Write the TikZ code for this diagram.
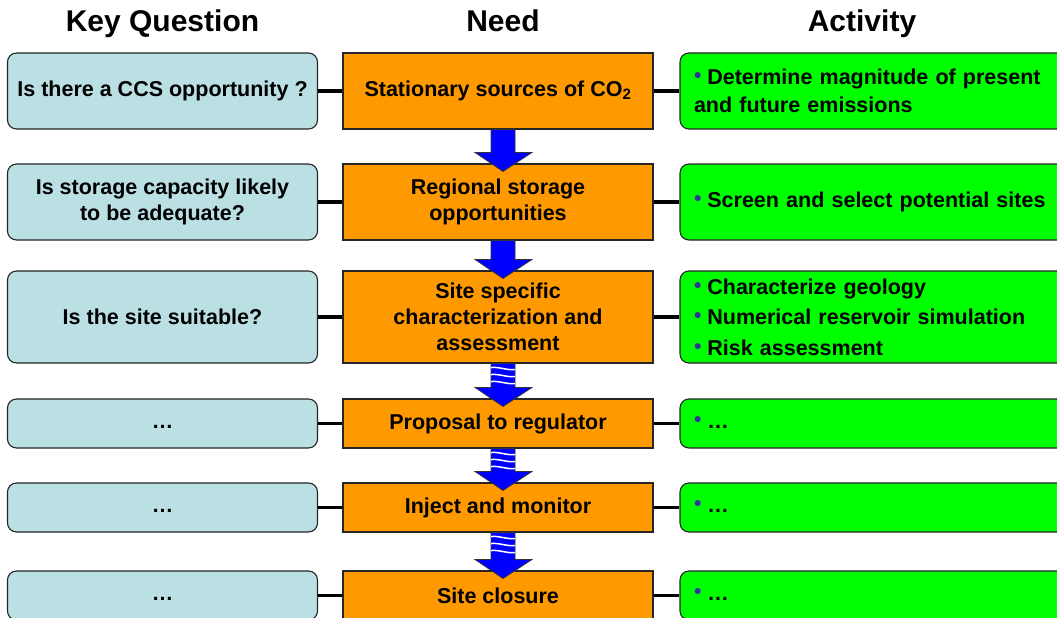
\documentclass[tikz,border=0pt]{standalone}
\usepackage{fontspec}
\setmainfont{Liberation Sans}
\usetikzlibrary{calc}
\definecolor{qblue}{RGB}{186,224,228}
\definecolor{needor}{RGB}{255,153,0}
\definecolor{actgr}{RGB}{0,255,0}
\definecolor{bulc}{RGB}{51,51,153}
\definecolor{arrblue}{RGB}{0,0,255}
\newcommand\bul{{\color{bulc}\raisebox{2pt}{\fontsize{21}{21}\selectfont •}}\hspace{6pt}}
\newcommand\blockarrow[2]{%
  \draw[draw=black!80,line width=0.8pt,fill=arrblue] let \p1=(#1.south), \p2=(#2.north) in
  (\x1-7pt,\y1) -- (\x1+17pt,\y1) -- (\x1+17pt,\y2+11pt) -- (\x1+34pt,\y2+11pt)
  -- (\x1+5pt,\y2-8pt) -- (\x1-23pt,\y2+11pt) -- (\x1-7pt,\y2+11pt) -- cycle;}
\newcommand\stripes[1]{%
  \foreach \d in {5,12,19}{
  \draw[white,line width=1.5pt] let \p1=(#1.south) in
  (\x1-7pt,\y1-\d pt+1pt) .. controls (\x1+1pt,\y1-\d pt+2pt) and (\x1+9pt,\y1-\d pt-2pt) .. (\x1+17pt,\y1-\d pt-1pt);}}
\newcommand\dotsline{\raisebox{-5pt}{\vphantom{Ag}…}}
\newcommand\buldots{\raisebox{-5pt}{\vphantom{Ag}\bul …}}
\begin{document}
\begin{tikzpicture}[x=1pt,y=-1pt,
  every node/.style={font=\fontsize{21.5}{26}\selectfont\bfseries},
  header/.style={font=\fontsize{30}{30}\selectfont\bfseries,anchor=base},
  qbox/.style={draw=black!85,line width=1.1pt,fill=qblue,rounded corners=9pt,
    minimum width=310pt,align=center,inner sep=0pt},
  needbox/.style={draw=black!85,line width=1.1pt,fill=needor,
    minimum width=310pt,align=center,inner sep=0pt},
  actbox/.style={draw=black!85,line width=1.1pt,fill=actgr,rounded corners=9pt,
    minimum width=400pt,text width=372pt,align=left,inner xsep=14pt,inner ysep=0pt},
  link/.style={line width=3.5pt,black}
]
\useasboundingbox (0,0) rectangle (1057,618);
\clip (0,0) rectangle (1057,618);
\fill[white] (0,0) rectangle (1057,618);

\node[header] (h1) at (162.5,32) {Key Question};
\node[header] (h2) at (503,32) {Need};
\node[header] (h3) at (862,32) {Activity};

% row 1
\node[qbox,minimum height=76pt] (q1) at (162.5,91) {Is there a CCS opportunity ?};
\node[needbox,minimum height=76pt] (n1) at (498,91) {Stationary sources of CO\textsubscript{2}};
\node[actbox,minimum height=76pt,font=\fontsize{21.5}{28}\selectfont\bfseries] (a1) at (880,91) {\bul Determine magnitude of present\\and future emissions};
% row 2
\node[qbox,minimum height=76pt] (q2) at (162.5,202) {Is storage capacity likely\\to be adequate?};
\node[needbox,minimum height=76pt] (n2) at (498,202) {Regional storage\\opportunities};
\node[actbox,minimum height=76pt] (a2) at (880,202) {\bul Screen and select potential sites};
% row 3
\node[qbox,minimum height=92pt] (q3) at (162.5,317) {Is the site suitable?};
\node[needbox,minimum height=92pt] (n3) at (498,317) {Site specific\\characterization and\\assessment};
\node[actbox,minimum height=92pt,font=\fontsize{21.5}{30.5}\selectfont\bfseries] (a3) at (880,317) {\bul Characterize geology\\\bul Numerical reservoir simulation\\\bul Risk assessment};
% row 4
\node[qbox,minimum height=49pt] (q4) at (162.5,423.5) {\dotsline};
\node[needbox,minimum height=49pt] (n4) at (498,423.5) {Proposal to regulator};
\node[actbox,minimum height=49pt] (a4) at (880,423.5) {\buldots};
% row 5
\node[qbox,minimum height=49pt] (q5) at (162.5,507.5) {\dotsline};
\node[needbox,minimum height=49pt] (n5) at (498,507.5) {Inject and monitor};
\node[actbox,minimum height=49pt] (a5) at (880,507.5) {\buldots};
% row 6
\node[qbox,minimum height=49pt] (q6) at (162.5,595.5) {\dotsline};
\node[needbox,minimum height=49pt] (n6) at (498,595.5) {Site closure};
\node[actbox,minimum height=49pt] (a6) at (880,595.5) {\buldots};

\foreach \i in {1,...,6}{
  \draw[link] (q\i.east) -- (n\i.west);
  \draw[link] (n\i.east) -- (a\i.west);
}

\blockarrow{n1}{n2}
\blockarrow{n2}{n3}
\blockarrow{n3}{n4}\stripes{n3}
\blockarrow{n4}{n5}\stripes{n4}
\blockarrow{n5}{n6}\stripes{n5}
\end{tikzpicture}
\end{document}
